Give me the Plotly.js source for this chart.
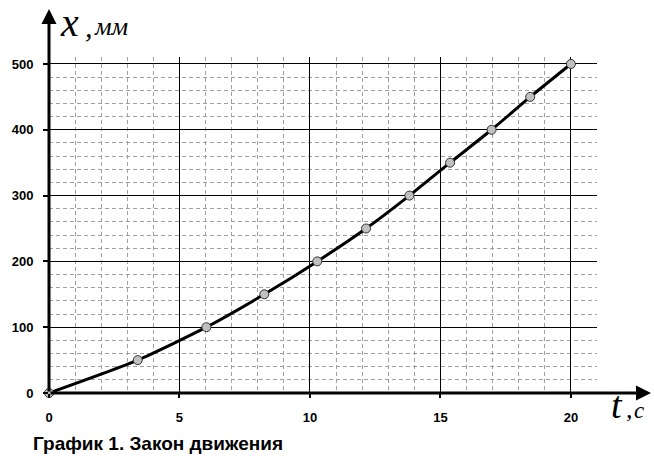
<!DOCTYPE html>
<html><head><meta charset="utf-8">
<script src="https://cdn.plot.ly/plotly-3.0.1.min.js"></script>
<style>html,body{margin:0;padding:0;background:#fff}#c{width:654px;height:469px}</style>
</head><body><div id="c"></div>
<script>
const tValues = [0, 3.40, 6.03, 8.25, 10.28, 12.15, 13.81, 15.37, 16.96, 18.44, 20];
const xValues = [0, 50, 100, 150, 200, 250, 300, 350, 400, 450, 500];
const xTicks = [0, 5, 10, 15, 20];
const yTicks = [0, 100, 200, 300, 400, 500];
const captionText = 'График 1. Закон движения';

const tickFont = {family: 'Liberation Sans, Arial, sans-serif', size: 13, color: '#000', weight: 'bold'};
const serif = 'Liberation Serif, Times New Roman, serif';
const W = 548, H = 336;
const px = v => (v - 49) / W, py = v => (393 - v) / H;
function lbl(x, y, text, size) {
  return {xref: 'paper', yref: 'paper', x: px(x), y: py(y), xanchor: 'left', yanchor: 'bottom', showarrow: false,
    text: text, font: {family: serif, style: 'italic', color: '#000', size: size}, borderpad: 0};
}
const data = [{
  x: tValues, y: xValues, type: 'scatter', mode: 'lines+markers',
  line: {color: '#000', width: 3, shape: 'spline', smoothing: 0.6},
  marker: {size: 9, color: '#c0c0c0', line: {color: '#333', width: 1}},
  cliponaxis: false, hoverinfo: 'skip'
}];
const layout = {
  width: 654, height: 469, paper_bgcolor: '#fff', plot_bgcolor: '#fff',
  margin: {l: 49, r: 57, t: 57, b: 76}, showlegend: false,
  xaxis: {range: [0, 21], tickvals: xTicks, ticktext: xTicks.map(String), showgrid: true, gridcolor: '#000', gridwidth: 1,
    zeroline: false, showline: false, ticks: 'outside', ticklen: 4, tickwidth: 2, tickcolor: '#000', tickfont: tickFont,
    ticklabelstandoff: 8,
    minor: {dtick: 1, showgrid: true, gridcolor: '#a0a0a0', griddash: '4px,3px', gridwidth: 1, ticks: ''}, fixedrange: true},
  yaxis: {range: [0, 510.6], tickvals: yTicks, ticktext: yTicks.map(String), showgrid: true, gridcolor: '#000', gridwidth: 1,
    zeroline: false, showline: false, ticks: 'outside', ticklen: 5, tickwidth: 2, tickcolor: '#000', tickfont: tickFont,
    ticklabelstandoff: 7,
    minor: {dtick: 20, showgrid: true, gridcolor: '#a0a0a0', griddash: '4px,3px', gridwidth: 1, ticks: ''}, fixedrange: true},
  annotations: [
    {xref: 'paper', yref: 'paper', x: px(651), y: 0, ax: -602, ay: 0, text: '', showarrow: true, arrowhead: 2, arrowsize: 1, arrowwidth: 3, arrowcolor: '#000'},
    {xref: 'paper', yref: 'paper', x: 0, y: py(9), ax: 0, ay: 384, text: '', showarrow: true, arrowhead: 2, arrowsize: 1, arrowwidth: 3, arrowcolor: '#000'},
    lbl(59, 46, 'x', 40),
    lbl(84, 44, ',', 30),
    lbl(93, 42, 'мм', 26),
    lbl(610, 427, 't', 38),
    lbl(625, 425, ',', 26),
    lbl(633, 424, 'c', 23),
    {xref: 'paper', yref: 'paper', x: px(31), y: py(443), xanchor: 'left', yanchor: 'middle', showarrow: false,
      text: captionText, font: {family: 'Liberation Sans, Arial, sans-serif', size: 19, color: '#000', weight: 'bold'}}
  ]
};
Plotly.newPlot('c', data, layout, {displayModeBar: false, staticPlot: true});
</script></body></html>
